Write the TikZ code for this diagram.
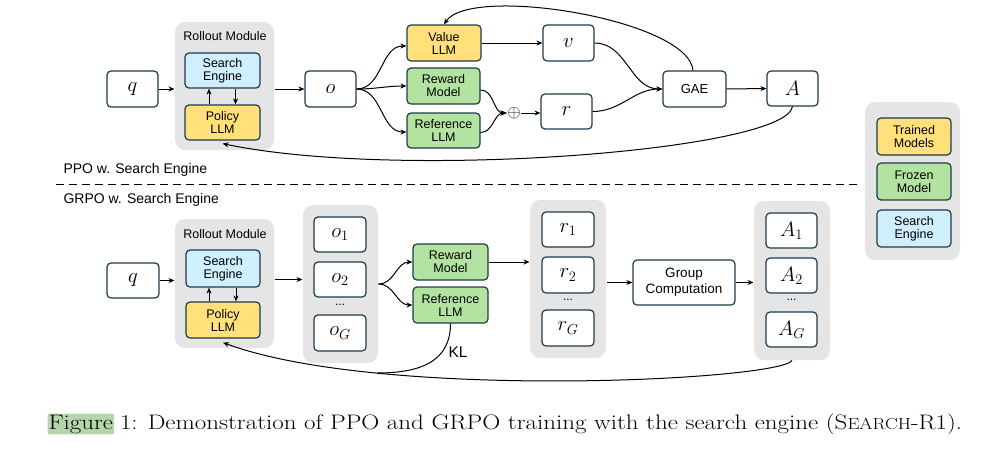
\documentclass[tikz,border=0pt]{standalone}
\usepackage{fontspec}
\newfontfamily\diagfont{Liberation Sans}
\newfontfamily\capfont[FakeStretch=1.19]{Latin Modern Roman}
\usetikzlibrary{arrows.meta, positioning}
\definecolor{edge}{HTML}{1E3A4C}
\definecolor{train}{HTML}{FFE07A}
\definecolor{frozen}{HTML}{B3E3A0}
\definecolor{search}{HTML}{CFEFFC}
\definecolor{grp}{HTML}{E5E5E5}
\definecolor{hilite}{HTML}{B5D6AA}

\begin{document}
\begin{tikzpicture}[x=1pt, y=1pt, >={Stealth[length=6pt,width=5pt]}, line width=1pt,
  box/.style={draw=edge, line width=1.2pt, rounded corners=4pt, fill=white, inner sep=0pt,
    align=center, minimum width=51pt, minimum height=36pt, font=\fontsize{20}{22}\selectfont},
  model/.style={box, minimum width=74pt, font=\diagfont\fontsize{12.5}{13}\selectfont},
  group/.style={fill=grp, rounded corners=10pt, inner sep=0pt},
  tag/.style={font=\diagfont\fontsize{12.5}{14}\selectfont, inner sep=0pt},
  dots/.style={font=\diagfont\fontsize{12}{12}\selectfont, inner sep=0pt}]
  \useasboundingbox (0,0) rectangle (1004,-456);

  % PPO
  \node[group, minimum width=99pt, minimum height=128pt] (Roll1) at (224.5,-86) {};
  \node[tag] (RollT1) at (225,-36) {Rollout Module};
  \node[box] (Q1) at (132.5,-89) {$q$};
  \node[model, fill=search, minimum width=75pt, minimum height=35pt] (Se1) at (222.5,-70.5) {Search\\Engine};
  \node[model, fill=train, minimum width=75pt, minimum height=35pt] (Pol1) at (222.5,-122.5) {Policy\\LLM};
  \node[box] (O1) at (330.5,-89) {$o$};
  \node[model, fill=train] (Val1) at (444,-43) {Value\\LLM};
  \node[model, fill=frozen, minimum width=73pt] (Rew1) at (443.5,-86) {Reward\\Model};
  \node[model, fill=frozen, minimum width=73pt, minimum height=35pt] (Ref1) at (443.5,-130.5) {Reference\\LLM};
  \node[inner sep=0pt, font=\fontsize{17}{17}\selectfont] (Plus1) at (514,-113) {$\oplus$};
  \node[box] (V1) at (568.5,-43) {$v$};
  \node[box, minimum height=35pt] (Rr1) at (566.5,-111.5) {$r$};
  \node[box, minimum width=63pt, font=\diagfont\fontsize{13}{14}\selectfont] (Gae1) at (694.5,-89) {GAE};
  \node[box, minimum height=35pt] (A1) at (792.5,-88.5) {$A$};

  \draw[->] ([xshift=-13.5pt]Pol1.north) -- ([xshift=-13.5pt]Se1.south);
  \draw[->] ([xshift=13pt]Se1.south) -- ([xshift=13pt]Pol1.north);
  \draw[->] (Q1.east) -- (Q1.east -| Roll1.west);
  \draw[->] (Roll1.east |- O1.west) -- (O1.west);
  \draw[->] (O1.east) to[out=0, in=180] ([yshift=-3pt]Val1.west);
  \draw[->] (O1.east) to[out=0, in=180] (Rew1.west);
  \draw[->] (O1.east) to[out=0, in=180] ([yshift=-1.5pt]Ref1.west);
  \draw[->] ([yshift=-4pt]Rew1.east) to[out=0, in=180] (Plus1.west);
  \draw[->] ([yshift=-2pt]Ref1.east) to[out=0, in=180] (Plus1.west);
  \draw[->] (Plus1.east) -- (Rr1.west |- Plus1.east);
  \draw[->] (Val1.east) -- (V1.west);
  \draw[->] (V1.east) to[out=0, in=180] (Gae1.west);
  \draw[->] (Rr1.east) to[out=0, in=180] (Gae1.west);
  \draw[->] (Gae1.east) -- (A1.west);
  \draw[->] ([xshift=-1.5pt]Gae1.north) .. controls +(-4.5,51) and +(26,40) .. (Val1.north);
  \draw[->] (A1.south) .. controls +(-7,-44) and +(177,-37) .. ([yshift=-3pt]Pol1.south);

  \node[tag, anchor=west, font=\diagfont\fontsize{14}{16}\selectfont] (Ppo) at (63,-170) {PPO w. Search Engine};
  \draw[dash pattern=on 8pt off 5pt] (56,-184) -- (857,-184);
  \node[tag, anchor=west, font=\diagfont\fontsize{14}{16}\selectfont] (Grpo) at (63,-200) {GRPO w. Search Engine};

  % GRPO
  \node[group, minimum width=99pt, minimum height=129pt] (Roll2) at (224.5,-283.5) {};
  \node[tag] (RollT2) at (225,-234) {Rollout Module};
  \node[box, minimum width=52pt, minimum height=35pt] (Q2) at (133,-280.5) {$q$};
  \node[model, fill=search, minimum height=37pt] (Se2) at (223,-268.5) {Search\\Engine};
  \node[model, fill=train] (Pol2) at (223,-320) {Policy\\LLM};

  \node[group, minimum width=75pt, minimum height=158pt] (Og2) at (340.5,-284) {};
  \node[box, minimum width=52pt, minimum height=35pt] (Oa2) at (340,-234.5) {$o_1$};
  \node[box, minimum width=52pt, minimum height=35pt] (Ob2) at (340,-279.5) {$o_2$};
  \node[dots] (Od2) at (340,-305) {...};
  \node[box, minimum width=52pt] (Oc2) at (340,-333) {$o_G$};

  \node[model, fill=frozen, minimum width=75pt] (Rew2) at (450.5,-262) {Reward\\Model};
  \node[model, fill=frozen, minimum width=75pt] (Ref2) at (450.5,-305) {Reference\\LLM};

  \node[group, minimum width=76pt, minimum height=158pt] (Rg2) at (568,-279) {};
  \node[box, minimum width=52pt, minimum height=35pt] (Ra2) at (568,-229.5) {$r_1$};
  \node[box, minimum width=52pt] (Rb2) at (568,-275) {$r_2$};
  \node[dots] (Rd2) at (568,-300) {...};
  \node[box, minimum width=52pt] (Rc2) at (568,-328) {$r_G$};

  \node[box, minimum width=102pt, minimum height=45pt, font=\diagfont\fontsize{13.5}{16}\selectfont] (Grp2) at (684,-282.5) {Group\\Computation};

  \node[group, minimum width=76pt, minimum height=159pt] (Ag2) at (792,-280.5) {};
  \node[box, minimum height=35pt] (Aa2) at (791.5,-230.5) {$A_1$};
  \node[box, minimum height=35pt] (Ab2) at (791.5,-275.5) {$A_2$};
  \node[dots] (Ad2) at (791.5,-300) {...};
  \node[box, minimum height=35pt] (Ac2) at (791.5,-329.5) {$A_G$};

  \coordinate (KL2) at (377,-373);
  \node[font=\diagfont\fontsize{15.5}{16}\selectfont, inner sep=0pt] (KLT2) at (458,-352) {KL};

  \draw[->] ([xshift=-14pt]Pol2.north) -- ([xshift=-14pt]Se2.south);
  \draw[->] ([xshift=13pt]Se2.south) -- ([xshift=13pt]Pol2.north);
  \draw[->] (Q2.east) -- (Q2.east -| Roll2.west);
  \draw[->] (Roll2.east |- Ob2.west) -- (Og2.west |- Ob2.west);
  \draw[->] (Og2.east) to[out=0, in=180] (Rew2.west);
  \draw[->] (Og2.east) to[out=0, in=180] (Ref2.west);
  \draw[->] (Rew2.east) -- (Rew2.east -| Rg2.west);
  \draw[->] (Grp2.west -| Rg2.east) -- (Grp2.west);
  \draw[->] (Grp2.east) -- (Grp2.east -| Ag2.west);
  \draw (Ref2.south) .. controls +(0,-37) and +(45,0) .. (KL2);
  \draw[->] (Ag2.south) .. controls +(-13,-20) and +(157,-58) .. ([yshift=-4pt]Pol2.south);

  % legend
  \node[group, minimum width=95pt, minimum height=158pt] (Leg) at (912.5,-181) {};
  \node[model, fill=train, minimum height=37pt] (LegT) at (914,-136.5) {Trained\\Models};
  \node[model, fill=frozen, minimum height=37pt] (LegF) at (914,-181.5) {Frozen\\Model};
  \node[model, fill=search, minimum height=37pt] (LegS) at (914,-228.5) {Search\\Engine};

  % caption
  \node[fill=hilite, rounded corners=2pt, inner sep=1pt, anchor=base west,
    font=\capfont\fontsize{21}{23}\selectfont] (Fig) at (47,-429) {Figure};
  \node[anchor=base west, inner sep=0pt, font=\capfont\fontsize{21}{23}\selectfont] (Cap)
    at ([xshift=5pt]Fig.base east) {1: Demonstration of PPO and GRPO training with the search engine (S{\fontsize{16}{17}\selectfont EARCH}-R1).};
\end{tikzpicture}
\end{document}
